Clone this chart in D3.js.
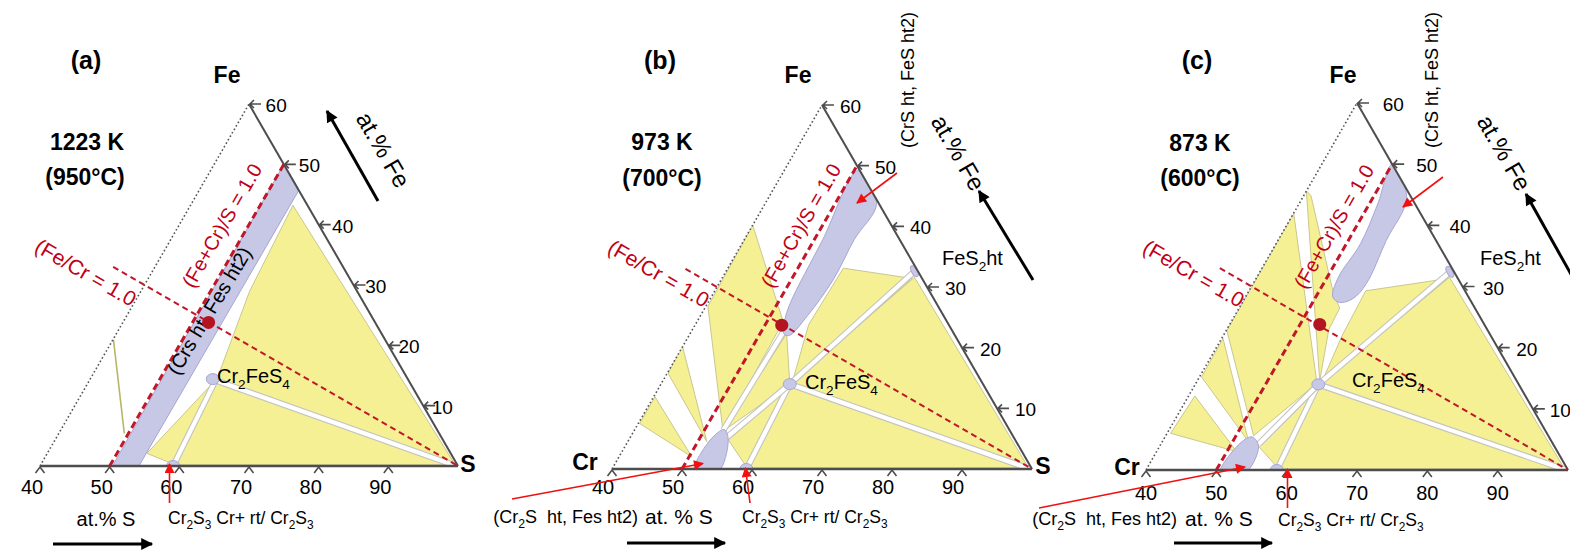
<!DOCTYPE html>
<html>
<head>
<meta charset="utf-8">
<script src="https://cdn.jsdelivr.net/npm/d3@7"></script>
<style>
  html, body { margin: 0; padding: 0; background: #fff; }
  svg { display: block; font-family: "Liberation Sans", Arial, sans-serif; }
</style>
</head>
<body>
<script>
// Isothermal sections of the Cr–Fe–S system, sulfur-rich corner (40–100 at.% S).
// Compositions are given as [at.% S, at.% Fe]; Cr is the balance.

const panelTags = ["(a)", "(b)", "(c)"];
const tempK = ["1223 K", "973 K", "873 K"];
const tempC = ["(950\u00B0C)", "(700\u00B0C)", "(600\u00B0C)"];
const sTicks = [40, 50, 60, 70, 80, 90];
const feTicks = [10, 20, 30, 40, 50, 60];

// Single-phase fields (blue)
const sulfideBandA = [[50.0, 50.0], [54.3, 45.6], [54.2, 0], [50.4, 0]];
const sulfideBandB = [[50.6, 49.2], [55.9, 43.8], [55.7, 37.8], [56.0, 31.2], [55.3, 25.3],
                      [54.3, 22.0], [53.4, 22.3], [52.4, 24.6], [51.8, 27.3], [51.2, 37.8]];
const sulfideBandC = [[50.0, 50.0], [54.8, 44.5], [55.4, 37.5], [56.1, 30.5], [55.4, 28.0],
                      [53.8, 27.4], [52.4, 28.3], [51.6, 31.5], [52.0, 37.0], [51.2, 43.5]];
const cr2sBlobB = [[52.0, -0.6], [51.6, 4.6], [52.8, 6.5], [54.2, 4.8], [55.4, -0.6]];
const cr2sBlobC = [[50.8, -0.6], [51.2, 4.4], [52.4, 5.4], [54.1, 3.8], [54.3, -0.6]];
const cr2feS4 = [[57.6, 14.4], [58.4, 14.0], [57.5, 14.0]];
const cr2s3 = [[59.1, 0.0], [59.2, 0.0], [58.6, 0.0]];
const fes2 = [null, [66.9, 32.6], [67.0, 32.4]];
const ratioPoint = [[52.3, 23.8], [52.4, 23.7], [52.8, 23.8]];

// Three-phase triangles (yellow)
const threePhaseA = [
  [[54.7, 43.2], [99.4, 0.3], [58.2, 14.4], [55.6, 29.0]],
  [[58.2, 14.2], [99.4, 0.2], [59.2, 0.2]],
  [[54.3, 2.1], [59.0, 0.3], [58.0, 14.0]]
];
const threePhaseB = [
  [[56.5, 33.1], [67.2, 31.4], [58.6, 14.3], [56.2, 23.8]],
  [[67.4, 31.6], [99.3, 0.3], [58.6, 14.0]],
  [[58.6, 14.0], [99.3, 0.2], [59.3, 0.2]],
  [[54.0, 5.0], [58.4, 14.0], [59.1, 0.3]],
  [[52.8, 6.3], [53.8, 22.3], [58.4, 14.0]],
  [[40.0, 40.2], [52.3, 24.3], [52.7, 6.3], [40.3, 26.8]],
  [[39.9, 20.3], [40.1, 15.8], [51.3, 4.5]],
  [[40.2, 11.9], [40.2, 7.5], [50.4, 2.0]]
];
const threePhaseC = [
  [[56.6, 29.3], [67.3, 31.3], [57.8, 14.5], [56.9, 22.0]],
  [[67.4, 31.5], [99.3, 0.3], [57.7, 14.0]],
  [[57.7, 14.0], [99.3, 0.2], [58.8, 0.2]],
  [[53.9, 4.0], [57.5, 14.0], [58.5, 0.4]],
  [[40.0, 45.6], [41.0, 44.9], [52.4, 28.6], [54.3, 26.5], [54.5, 23.0], [57.4, 14.6]],
  [[40.0, 42.0], [57.2, 14.2], [52.5, 5.6], [40.1, 22.8]],
  [[40.2, 21.5], [40.3, 15.2], [52.3, 4.6]],
  [[40.9, 12.1], [40.5, 6.0], [51.4, 3.0]]
];

// Two-phase tie strips separating neighbouring triangles
const tieStripsA = [[[58.1, 14.2], [99.6, 0.05]], [[59.1, 0.1], [58.1, 14.2]]];
const tieStripsB = [[[66.8, 32.3], [58.4, 14.0]], [[58.4, 14.0], [99.6, 0.05]],
                    [[59.2, 0.1], [58.4, 14.0]], [[53.8, 5.2], [58.4, 14.0]],
                    [[52.7, 6.4], [53.2, 23.0]]];
const tieStripsC = [[[66.9, 32.1], [57.5, 14.0]], [[57.5, 14.0], [99.6, 0.05]],
                    [[58.6, 0.1], [57.5, 14.0]], [[53.9, 4.2], [57.5, 14.0]]];

const guideLineA = [[40.1, 20.9], [49.4, 5.4]];
const lineFeCr = [[34.0, 33.0], [100, 0]];
const lineMetalS = [[50, 0], [50, 50]];

const bands = [sulfideBandA, sulfideBandB, sulfideBandC];
const blobs = [null, cr2sBlobB, cr2sBlobC];
const threePhase = [threePhaseA, threePhaseB, threePhaseC];
const tieStrips = [tieStripsA, tieStripsB, tieStripsC];

// Panel frames: x-range of the base (40 -> 100 at.% S) and y-range (0 -> 60 at.% Fe)
const frames = [
  { x: [40, 458], y: [466, 104] },
  { x: [612, 1032], y: [469, 105] },
  { x: [1146, 1568], y: [470, 103] }
];

const YELLOW = "#f6f094", YEL_EDGE = "#c9c68f";
const BLUE = "#c7c7e6", BLUE_EDGE = "#a6a6d3";
const DARKRED = "#c0172a", TXTRED = "#c00016", ARROWRED = "#f01010";
const AXIS = "#4d4d4d";

const svg = d3.select("body").append("svg").attr("width", 1570).attr("height", 555);
const defs = svg.append("defs");
defs.append("marker").attr("id", "headBlack").attr("viewBox", "0 0 10 10")
  .attr("refX", 9).attr("refY", 5).attr("markerWidth", 16).attr("markerHeight", 12)
  .attr("markerUnits", "userSpaceOnUse").attr("orient", "auto")
  .append("path").attr("d", "M0,0 L10,5 L0,10 Z").attr("fill", "#000");
defs.append("marker").attr("id", "headRed").attr("viewBox", "0 0 10 10")
  .attr("refX", 9).attr("refY", 5).attr("markerWidth", 12).attr("markerHeight", 10)
  .attr("markerUnits", "userSpaceOnUse").attr("orient", "auto")
  .append("path").attr("d", "M0,0 L10,5 L0,10 Z").attr("fill", ARROWRED);

// text with {subscript} segments
function rich(sel, str, fs) {
  let inSub = false;
  str.split(/(\{[^}]*\})/).forEach(p => {
    if (!p) return;
    const isSub = p[0] === "{";
    const t = sel.append("tspan").text(isSub ? p.slice(1, -1) : p);
    if (isSub) {
      t.attr("font-size", fs * 0.68).attr("dy", inSub ? 0 : fs * 0.3);
      inSub = true;
    } else {
      t.attr("dy", inSub ? -fs * 0.3 : 0);
      inSub = false;
    }
  });
  return sel;
}
function label(g, str, x, y, fs, opt = {}) {
  const t = g.append("text").attr("x", x).attr("y", y).attr("font-size", fs)
    .attr("fill", opt.fill || "#000").attr("font-weight", opt.bold ? "bold" : "normal")
    .attr("text-anchor", opt.anchor || "start").style("white-space", "pre");
  if (opt.rotate !== undefined) t.attr("transform", `rotate(${opt.rotate},${x},${y})`);
  return rich(t, str, fs);
}
function arrow(g, x1, y1, x2, y2, red) {
  g.append("line").attr("x1", x1).attr("y1", y1).attr("x2", x2).attr("y2", y2)
    .attr("stroke", red ? ARROWRED : "#000").attr("stroke-width", red ? 1.6 : 3)
    .attr("marker-end", red ? "url(#headRed)" : "url(#headBlack)");
}

// per-panel label placement
const txt = [
  { tag: [86, 69], fe: [227, 83], tk: [87, 150], tc: [85, 185], atFe: [376, 146],
    ms: [228, 222], fecr: [82, 272], cfs: [217, 383], s: [468, 472],
    tickOff: f => 7 + 0.16 * f, baseLab: 487, baseOff: -8 },
  { tag: [660, 69], fe: [798, 83], tk: [662, 150], tc: [662, 186], atFe: [951, 149],
    ms: [807, 222], fecr: [655, 273], cfs: [805, 389], s: [1043, 474], cr: [585, 470],
    tickOff: f => 18, baseLab: 487, baseOff: -9 },
  { tag: [1197, 69], fe: [1343, 83], tk: [1200, 151], tc: [1200, 186], atFe: [1497, 149],
    ms: [1340, 223], fecr: [1190, 273], cfs: [1352, 387], s: null, cr: [1127, 475],
    tickOff: f => 15 + 0.18 * f, baseLab: 493, baseOff: 0 }
];

frames.forEach((fr, i) => {
  const xs = d3.scaleLinear().domain([40, 100]).range(fr.x);
  const ys = d3.scaleLinear().domain([0, 60]).range(fr.y);
  const P = d => [xs(d[0] + d[1] / 2), ys(d[1])];
  const poly = pts => "M" + pts.map(P).map(p => p.join(",")).join("L") + "Z";
  const g = svg.append("g");
  const T = txt[i];

  const clipId = "tri" + i;
  defs.append("clipPath").attr("id", clipId).append("path")
    .attr("d", poly([[40, 0], [100, 0], [40, 60]]));
  const phase = g.append("g").attr("clip-path", `url(#${clipId})`);

  // three-phase fields
  phase.selectAll("path.tp").data(threePhase[i]).join("path")
    .attr("d", poly).attr("fill", YELLOW).attr("stroke", YEL_EDGE).attr("stroke-width", 1);

  // tie strips
  tieStrips[i].forEach(seg => {
    const [a, b] = seg.map(P);
    phase.append("line").attr("x1", a[0]).attr("y1", a[1]).attr("x2", b[0]).attr("y2", b[1])
      .attr("stroke", "#c4c4c0").attr("stroke-width", 6.5);
    phase.append("line").attr("x1", a[0]).attr("y1", a[1]).attr("x2", b[0]).attr("y2", b[1])
      .attr("stroke", "#fff").attr("stroke-width", 4.2);
  });

  // single-phase fields
  const closed = d3.line().curve(d3.curveCatmullRomClosed.alpha(0.5));
  const bandPath = i === 0 ? poly(bands[i]) : closed(bands[i].map(P));
  phase.append("path").attr("d", bandPath).attr("fill", BLUE)
    .attr("stroke", BLUE_EDGE).attr("stroke-width", 1);
  if (blobs[i]) {
    phase.append("path").attr("d", closed(blobs[i].map(P))).attr("fill", BLUE)
      .attr("stroke", BLUE_EDGE).attr("stroke-width", 1);
  }
  const c3 = P(cr2s3[i]);
  phase.append("ellipse").attr("cx", c3[0]).attr("cy", c3[1]).attr("rx", 6.5).attr("ry", 5.5)
    .attr("fill", BLUE).attr("stroke", BLUE_EDGE);
  const c4 = P(cr2feS4[i]);
  phase.append("ellipse").attr("cx", c4[0]).attr("cy", c4[1]).attr("rx", 6.5).attr("ry", 5.5)
    .attr("fill", BLUE).attr("stroke", BLUE_EDGE);
  if (fes2[i]) {
    const c2 = P(fes2[i]);
    phase.append("ellipse").attr("cx", c2[0]).attr("cy", c2[1]).attr("rx", 6).attr("ry", 2.8)
      .attr("transform", `rotate(60,${c2[0]},${c2[1]})`)
      .attr("fill", BLUE).attr("stroke", BLUE_EDGE);
  }
  if (i === 0) {
    const [a, b] = guideLineA.map(P);
    g.append("line").attr("x1", a[0]).attr("y1", a[1]).attr("x2", b[0]).attr("y2", b[1])
      .attr("stroke", "#b9b66a").attr("stroke-width", 1.6);
  }

  // triangle edges
  const pCr = P([40, 0]), pS = P([100, 0]), pFe = P([40, 60]);
  g.append("line").attr("x1", pCr[0]).attr("y1", pCr[1]).attr("x2", pFe[0]).attr("y2", pFe[1])
    .attr("stroke", "#555").attr("stroke-width", 1.6).attr("stroke-dasharray", "1.6,2.4");
  g.append("line").attr("x1", pFe[0]).attr("y1", pFe[1]).attr("x2", pS[0]).attr("y2", pS[1])
    .attr("stroke", AXIS).attr("stroke-width", 2);
  g.append("line").attr("x1", pCr[0]).attr("y1", pCr[1]).attr("x2", pS[0]).attr("y2", pS[1])
    .attr("stroke", AXIS).attr("stroke-width", 2.4);

  // base ticks (carets) and labels
  sTicks.forEach(s => {
    const [x, y] = P([s, 0]);
    g.append("path").attr("d", `M${x - 4.5},${y + 7}L${x},${y + 1}L${x + 4.5},${y + 7}`)
      .attr("fill", "none").attr("stroke", AXIS).attr("stroke-width", 1.6);
    g.append("text").attr("x", x + T.baseOff).attr("y", T.baseLab + 7).attr("font-size", 20)
      .attr("text-anchor", "middle").text(s);
  });
  // Fe ticks on the S–Fe edge
  feTicks.forEach(f => {
    const [x, y] = P([100 - f, f]);
    g.append("path").attr("d", `M${x + 12},${y}L${x + 1},${y}M${x + 5},${y - 4}L${x + 1},${y}L${x + 5},${y + 4}`)
      .attr("fill", "none").attr("stroke", AXIS).attr("stroke-width", 1.6);
    g.append("text").attr("x", x + T.tickOff(f)).attr("y", y + 8).attr("font-size", 19).text(f);
  });

  // reference lines and point
  const m = lineMetalS.map(P);
  g.append("line").attr("x1", m[0][0]).attr("y1", m[0][1]).attr("x2", m[1][0]).attr("y2", m[1][1])
    .attr("stroke", DARKRED).attr("stroke-width", 3).attr("stroke-dasharray", "7,4");
  const r = lineFeCr.map(P);
  g.append("line").attr("x1", r[0][0]).attr("y1", r[0][1]).attr("x2", r[1][0]).attr("y2", r[1][1])
    .attr("stroke", DARKRED).attr("stroke-width", 2).attr("stroke-dasharray", "6,4");
  if (i === 0) {
    const mid = P([52.0, 26.3]);
    label(g, "(Crs ht, Fes ht2)", mid[0], mid[1] + 7, 20, { anchor: "middle", rotate: -59 });
  }
  const rp = P(ratioPoint[i]);
  g.append("circle").attr("cx", rp[0]).attr("cy", rp[1]).attr("r", 6.5).attr("fill", "#b3141f");

  // labels
  label(g, panelTags[i], T.tag[0], T.tag[1], 25, { bold: true, anchor: "middle" });
  label(g, "Fe", T.fe[0], T.fe[1], 23, { bold: true, anchor: "middle" });
  label(g, tempK[i], T.tk[0], T.tk[1], 23, { bold: true, anchor: "middle" });
  label(g, tempC[i], T.tc[0], T.tc[1], 23, { bold: true, anchor: "middle" });
  label(g, "at.% Fe", T.atFe[0], T.atFe[1] + 8, 24, { anchor: "middle", rotate: 60 });
  label(g, "(Fe+Cr)/S = 1.0", T.ms[0], T.ms[1] + 7, 20, { anchor: "middle", rotate: -60, fill: TXTRED });
  label(g, "(Fe/Cr = 1.0", T.fecr[0], T.fecr[1] + 7, 21, { anchor: "middle", rotate: 30, fill: TXTRED });
  label(g, "Cr{2}FeS{4}", T.cfs[0], T.cfs[1], 20);
  if (T.s) label(g, "S", T.s[0], T.s[1], 23, { bold: true, anchor: "middle" });
  if (T.cr) label(g, "Cr", T.cr[0], T.cr[1], 23, { bold: true, anchor: "middle" });
});

// panel-specific annotations
const ann = svg.append("g");
// (a)
label(ann, "at.% S", 106, 526, 20, { anchor: "middle" });
label(ann, "Cr{2}S{3} Cr+ rt/ Cr{2}S{3}", 168, 524, 17.5);
arrow(ann, 53, 544, 152, 544);
arrow(ann, 378, 201, 327, 111);
arrow(ann, 169.5, 503, 169.5, 464, true);
// (b)
label(ann, "(CrS ht, FeS ht2)", 914, 80, 18, { anchor: "middle", rotate: -90 });
label(ann, "FeS{2}ht", 942, 265, 20);
label(ann, "(Cr{2}S  ht, Fes ht2)", 638, 523, 18, { anchor: "end" });
label(ann, "at. % S", 645, 524, 21);
label(ann, "Cr{2}S{3} Cr+ rt/ Cr{2}S{3}", 742, 523, 17.5);
arrow(ann, 627, 543, 725, 543);
arrow(ann, 1033, 280, 979, 191);
arrow(ann, 750, 503, 745.5, 468, true);
arrow(ann, 512, 499, 703, 463.5, true);
arrow(ann, 897, 173, 857, 203, true);
// (c)
label(ann, "(CrS ht, FeS ht2)", 1438, 80, 18, { anchor: "middle", rotate: -90 });
label(ann, "FeS{2}ht", 1480, 265, 20);
label(ann, "(Cr{2}S  ht, Fes ht2)", 1177, 525, 18, { anchor: "end" });
label(ann, "at. % S", 1185, 526, 21);
label(ann, "Cr{2}S{3} Cr+ rt/ Cr{2}S{3}", 1278, 526, 17.5);
arrow(ann, 1174, 543, 1272, 543);
arrow(ann, 1577, 285, 1526, 194);
arrow(ann, 1287.5, 508, 1287.5, 469, true);
arrow(ann, 1039, 508, 1245, 467, true);
arrow(ann, 1443, 177, 1403, 207, true);
</script>
</body>
</html>
